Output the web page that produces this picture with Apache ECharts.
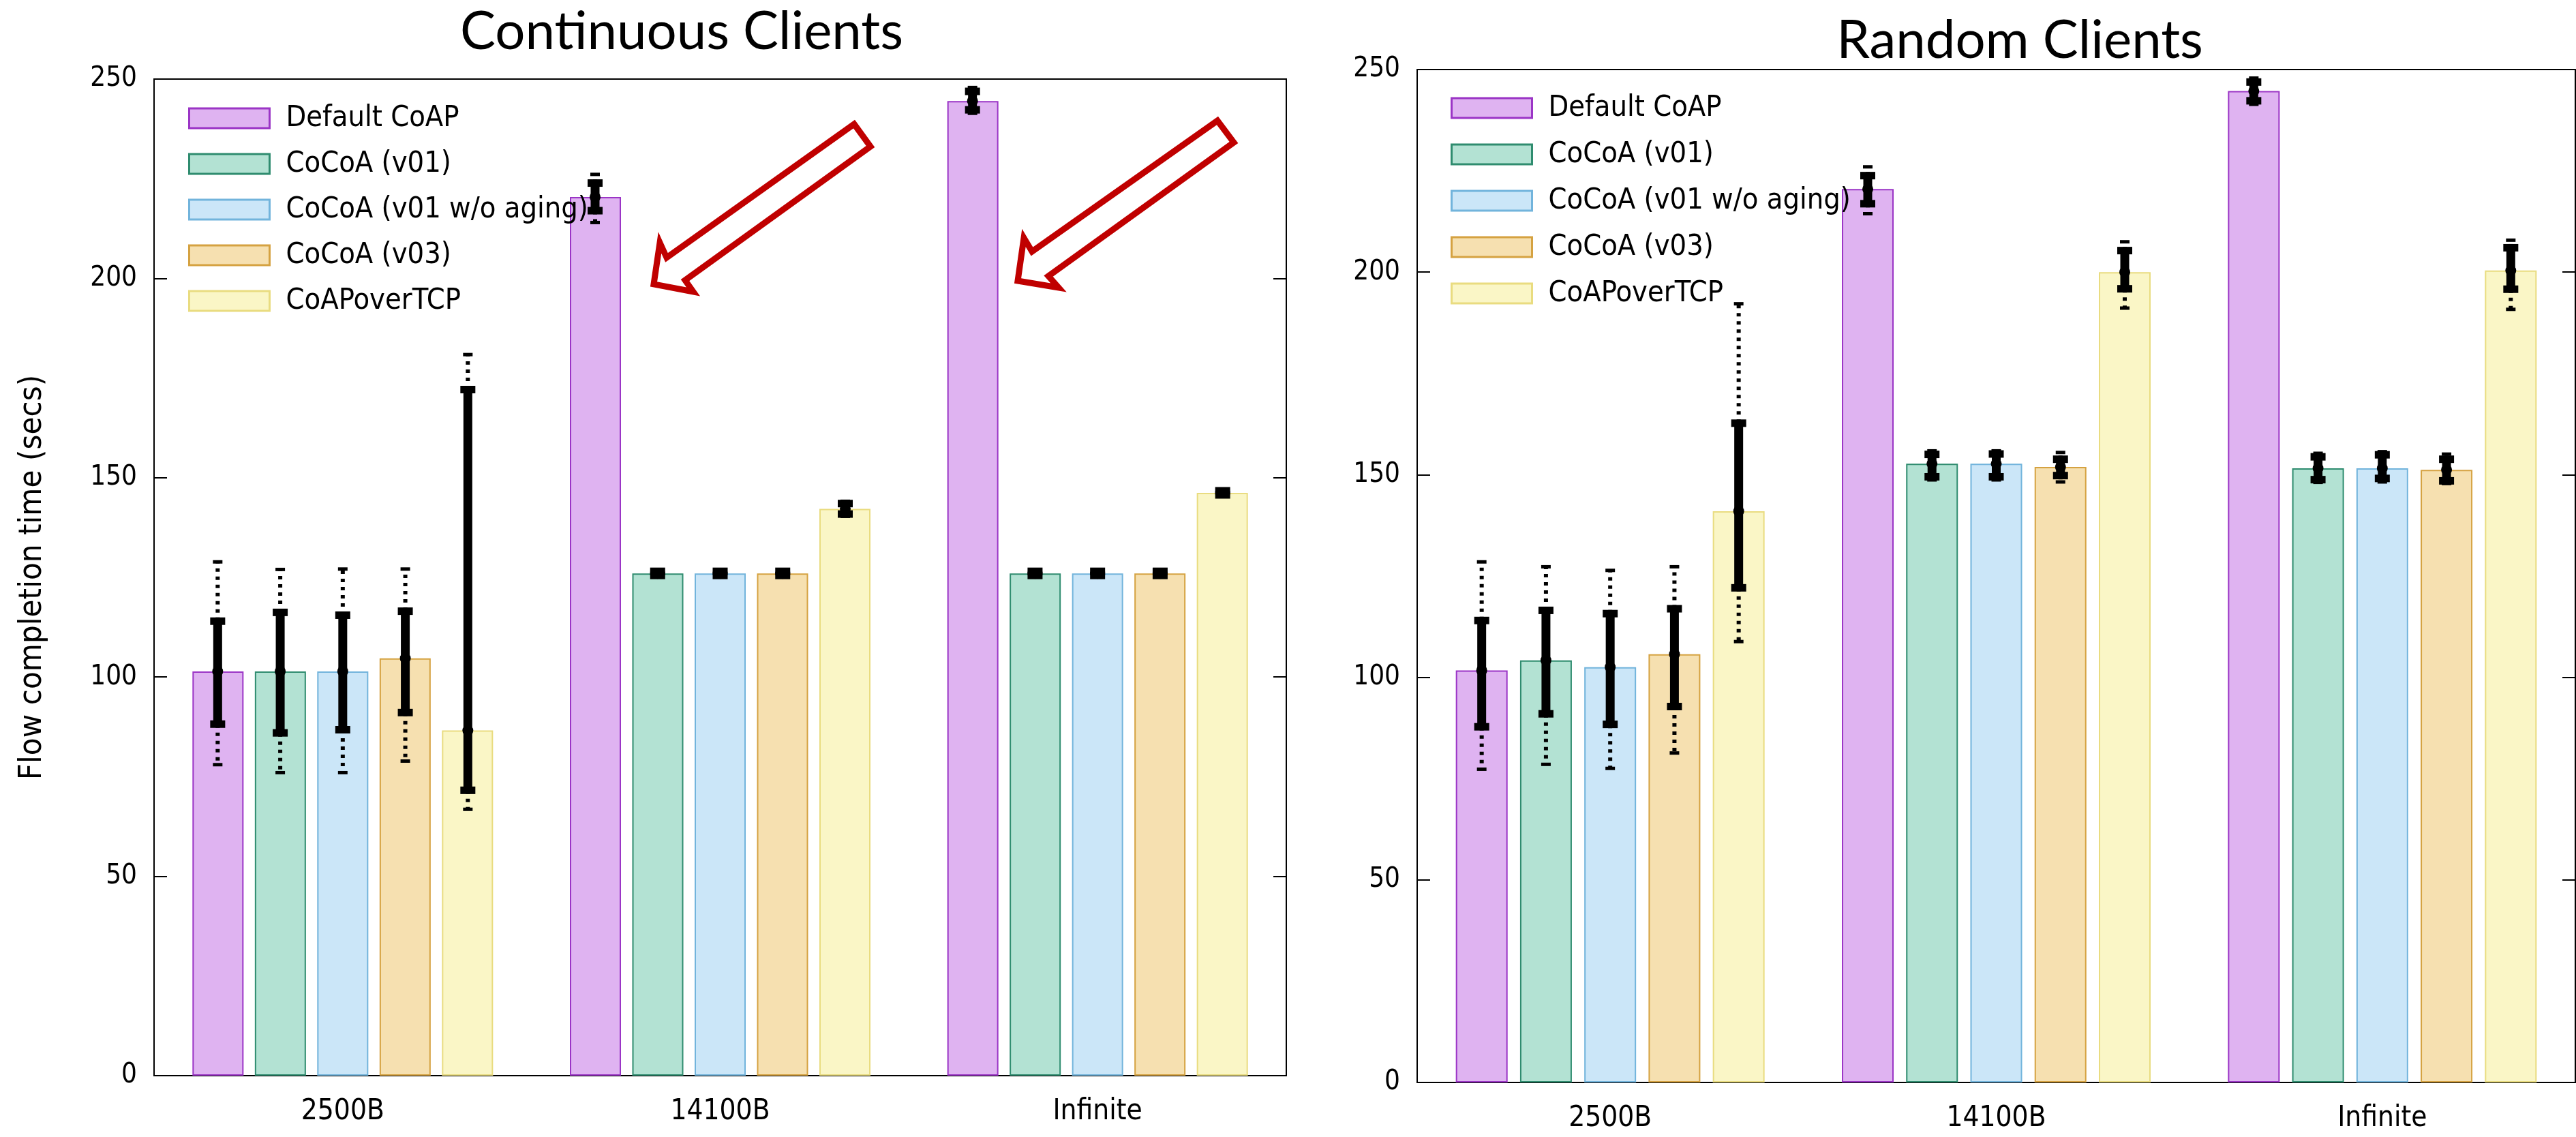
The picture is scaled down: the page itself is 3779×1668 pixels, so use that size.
<!DOCTYPE html>
<html><head><meta charset="utf-8">
<script src="https://cdn.jsdelivr.net/npm/echarts@6/dist/echarts.min.js"></script>
<style>html,body{margin:0;padding:0;background:#fff}#c{width:3779px;height:1668px}</style>
</head><body><div id="c"></div>
<script>
// ---------- data ----------
const categories = ['2500B', '14100B', 'Infinite'];
const seriesNames = ['Default CoAP', 'CoCoA (v01)', 'CoCoA (v01 w/o aging)', 'CoCoA (v03)', 'CoAPoverTCP'];
const yTicks = [0, 50, 100, 150, 200, 250];

// Continuous Clients: mean values
const contDefault = [101.4, 220.4, 244.5];
const contV01     = [101.4, 126.0, 126.0];
const contV01na   = [101.4, 126.0, 126.0];
const contV03     = [104.7, 126.0, 126.0];
const contTcp     = [86.6, 142.2, 146.2];
// Continuous Clients: [low, high, min, max]
const contDefaultErr = [[88.1, 114.1, 78.1, 128.8], [216.9, 224.0, 214.1, 226.0], [242.2, 247.0, 241.5, 247.8]];
const contV01Err     = [[85.9, 116.3, 76.1, 126.9], [125.4, 126.6, 125.2, 126.8], [125.4, 126.6, 125.2, 126.8]];
const contV01naErr   = [[86.7, 115.6, 76.1, 127.0], [125.4, 126.6, 125.2, 126.8], [125.4, 126.6, 125.2, 126.8]];
const contV03Err     = [[91.0, 116.6, 79.0, 127.0], [125.4, 126.6, 125.2, 126.8], [125.4, 126.6, 125.2, 126.8]];
const contTcpErr     = [[71.5, 172.2, 66.9, 180.8], [140.8, 143.6, 140.4, 144.0], [145.6, 146.8, 145.4, 147.0]];

// Random Clients: mean values
const randDefault = [101.7, 220.5, 244.7];
const randV01     = [104.2, 152.7, 151.6];
const randV01na   = [102.5, 152.7, 151.6];
const randV03     = [105.7, 151.9, 151.2];
const randTcp     = [141.0, 200.0, 200.4];
// Random Clients: [low, high, min, max]
const randDefaultErr = [[87.7, 114.1, 77.4, 128.4], [216.8, 223.9, 214.5, 225.9], [242.2, 247.0, 241.5, 247.8]];
const randV01Err     = [[90.9, 116.6, 78.6, 127.2], [149.4, 155.1, 148.8, 155.8], [148.7, 154.5, 148.2, 155.2]];
const randV01naErr   = [[88.3, 115.8, 77.6, 126.3], [149.4, 155.2, 148.8, 155.8], [149.0, 155.0, 148.3, 155.6]];
const randV03Err     = [[92.7, 117.0, 81.4, 127.2], [149.7, 153.9, 148.3, 155.4], [148.4, 153.9, 147.9, 155.0]];
const randTcpErr     = [[122.0, 162.8, 108.9, 192.1], [195.8, 205.4, 191.2, 207.4], [195.7, 206.1, 190.9, 207.8]];

// ---------- styles ----------
const fills   = ['#dfb3f1', '#b3e2d3', '#cbe6f8', '#f6e0b0', '#faf6c6'];
const borders = ['#9b35c6', '#2f8c6f', '#72b4dc', '#d5a241', '#e9dc80'];
const FONT = "'DejaVu Sans Condensed', 'DejaVu Sans', sans-serif";

const contMeans = [contDefault, contV01, contV01na, contV03, contTcp];
const contErrs  = [contDefaultErr, contV01Err, contV01naErr, contV03Err, contTcpErr];
const randMeans = [randDefault, randV01, randV01na, randV03, randTcp];
const randErrs  = [randDefaultErr, randV01Err, randV01naErr, randV03Err, randTcpErr];

function errRender(offset) {
  return function (params, api) {
    const ci = api.value(0);
    const p = api.coord([ci, api.value(1)]);
    const x = p[0] + offset;
    const yM = p[1];
    const yLo = api.coord([ci, api.value(2)])[1];
    const yHi = api.coord([ci, api.value(3)])[1];
    const yMin = api.coord([ci, api.value(4)])[1];
    const yMax = api.coord([ci, api.value(5)])[1];
    const k = '#000';
    const dot = { stroke: k, lineWidth: 6, lineDash: [5, 7] };
    return {
      type: 'group',
      children: [
        { type: 'line', shape: { x1: x, y1: yHi, x2: x, y2: yMax }, style: dot },
        { type: 'line', shape: { x1: x, y1: yLo, x2: x, y2: yMin }, style: dot },
        { type: 'rect', shape: { x: x - 7, y: yMax - 3, width: 14, height: 5 }, style: { fill: k } },
        { type: 'rect', shape: { x: x - 7, y: yMin - 2, width: 14, height: 5 }, style: { fill: k } },
        { type: 'line', shape: { x1: x, y1: yLo, x2: x, y2: yHi }, style: { stroke: k, lineWidth: 13 } },
        { type: 'rect', shape: { x: x - 11, y: yHi - 5, width: 22, height: 11 }, style: { fill: k } },
        { type: 'rect', shape: { x: x - 11, y: yLo - 6, width: 22, height: 11 }, style: { fill: k } },
        { type: 'circle', shape: { cx: x, cy: yM, r: 8 }, style: { fill: k } }
      ]
    };
  };
}

function buildSeries(means, errs, gridIdx, barWidth, barGap, pitch) {
  const out = [];
  means.forEach((vals, i) => {
    out.push({
      type: 'bar', name: seriesNames[i], xAxisIndex: gridIdx, yAxisIndex: gridIdx * 2,
      data: vals, barWidth: barWidth, barGap: barGap, silent: true,
      itemStyle: { color: fills[i], borderColor: borders[i], borderWidth: 2 }
    });
  });
  means.forEach((vals, i) => {
    out.push({
      type: 'custom', name: 'err-' + gridIdx + '-' + i, xAxisIndex: gridIdx, yAxisIndex: gridIdx * 2,
      silent: true, z: 5,
      renderItem: errRender((i - 2) * pitch),
      encode: { x: 0, y: [1, 2, 3, 4, 5] },
      data: vals.map((m, c) => [c, m].concat(errs[i][c]))
    });
  });
  return out;
}

const axisLabelStyle = { color: '#000', fontFamily: FONT, fontSize: 40 };
function yAxes(gridIdx, withName) {
  const main = {
    gridIndex: gridIdx, type: 'value', min: yTicks[0], max: yTicks[yTicks.length - 1], interval: yTicks[1] - yTicks[0],
    axisLine: { show: true, lineStyle: { color: '#000', width: 2 } },
    axisTick: { show: true, inside: true, length: 19, lineStyle: { color: '#000', width: 2 } },
    axisLabel: Object.assign({ margin: 25 }, axisLabelStyle),
    splitLine: { show: false }
  };
  if (withName) {
    main.name = 'Flow completion time (secs)';
    main.nameLocation = 'middle';
    main.nameGap = 155;
    main.nameTextStyle = { color: '#000', fontFamily: FONT, fontSize: 47 };
  }
  const mirror = {
    gridIndex: gridIdx, type: 'value', position: 'right', min: yTicks[0], max: yTicks[yTicks.length - 1], interval: yTicks[1] - yTicks[0],
    axisLine: { show: false },
    axisTick: { show: true, inside: true, length: 19, lineStyle: { color: '#000', width: 2 } },
    axisLabel: { show: false }, splitLine: { show: false }
  };
  return [main, mirror];
}
function xAxis(gridIdx) {
  return {
    gridIndex: gridIdx, type: 'category', data: categories,
    axisTick: { show: false },
    axisLine: { lineStyle: { color: '#000', width: 2 } },
    axisLabel: Object.assign({ margin: 32 }, axisLabelStyle, { fontSize: 42 })
  };
}
const legendData = seriesNames.map((n, i) => ({
  name: n, icon: 'rect',
  itemStyle: { color: fills[i], borderColor: borders[i], borderWidth: 3 }
}));
function legend(left, top, gap) {
  return {
    left: left, top: top, orient: 'vertical', padding: 0, itemWidth: 118, itemHeight: 29, itemGap: gap,
    selectedMode: false, data: legendData,
    textStyle: { color: '#000', fontFamily: FONT, fontSize: 43, lineHeight: 29, padding: [0, 0, 0, 19] }
  };
}
const arrowStyle = { fill: '#fff', stroke: '#c00000', lineWidth: 9, lineJoin: 'miter' };

const option = {
  animation: false,
  backgroundColor: '#fff',
  grid: [
    { left: 226, top: 116, width: 1661, height: 1462, show: true, borderColor: '#000', borderWidth: 2, backgroundColor: 'transparent', outerBoundsMode: 'none' },
    { left: 2079, top: 102, width: 1699, height: 1486, show: true, borderColor: '#000', borderWidth: 2, backgroundColor: 'transparent', outerBoundsMode: 'none' }
  ],
  xAxis: [xAxis(0), xAxis(1)],
  yAxis: yAxes(0, true).concat(yAxes(1, false)),
  legend: [legend(276, 152, 24), legend(2128, 137, 25)],
  series: buildSeries(contMeans, contErrs, 0, 75, '22%', 91.75).concat(buildSeries(randMeans, randErrs, 1, 76, '24%', 94.25)),
  graphic: [
    { type: 'text', x: 1000, y: 47, z: 20, style: { text: 'Continuous Clients', fill: '#000', fontSize: 78, fontFamily: 'Lato', align: 'center', verticalAlign: 'middle' } },
    { type: 'text', x: 2963, y: 60, z: 20, style: { text: 'Random Clients', fill: '#000', fontSize: 78, fontFamily: 'Lato', align: 'center', verticalAlign: 'middle' } },
    { type: 'polygon', z: 20, shape: { points: [[1253, 182], [1277, 215], [1005, 411], [1017, 428], [959, 417], [968, 356], [978, 378]] }, style: arrowStyle },
    { type: 'polygon', z: 20, shape: { points: [[1786, 177], [1810, 209], [1538, 405], [1553, 422], [1493, 412], [1502, 349], [1514, 369]] }, style: arrowStyle }
  ]
};
const chart = echarts.init(document.getElementById('c'), null, { renderer: 'canvas' });
chart.setOption(option);
</script></body></html>
